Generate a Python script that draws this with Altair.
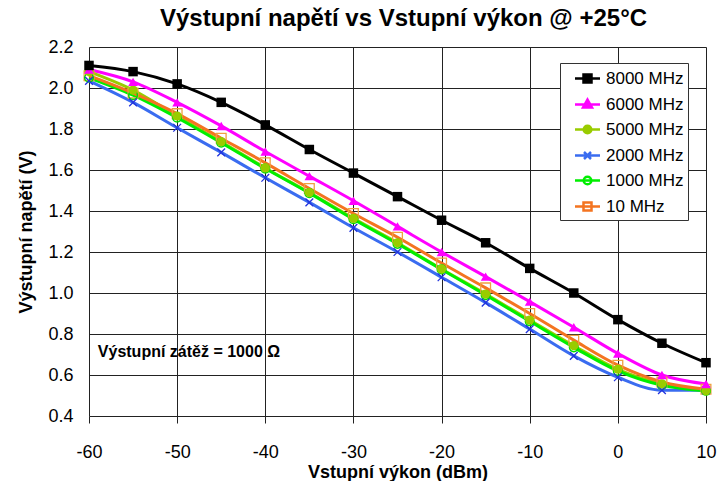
import altair as alt
import pandas as pd

# ---- data ----
x_dbm = [-60, -55, -50, -45, -40, -35, -30, -25, -20, -15, -10, -5, 0, 5, 10]
v_8000 = [2.11, 2.08, 2.02, 1.93, 1.82, 1.70, 1.585, 1.47, 1.355, 1.245, 1.12, 1.00, 0.87, 0.755, 0.66]
v_6000 = [2.09, 2.03, 1.93, 1.815, 1.69, 1.57, 1.45, 1.325, 1.20, 1.08, 0.958, 0.833, 0.705, 0.60, 0.556]
v_5000 = [2.08, 1.99, 1.863, 1.738, 1.61, 1.49, 1.364, 1.245, 1.117, 0.995, 0.868, 0.743, 0.628, 0.557, 0.523]
v_2000 = [2.035, 1.93, 1.806, 1.686, 1.562, 1.442, 1.318, 1.20, 1.077, 0.953, 0.824, 0.693, 0.589, 0.526, 0.526]
v_1000 = [2.05, 1.965, 1.855, 1.733, 1.607, 1.487, 1.36, 1.24, 1.115, 0.99, 0.862, 0.735, 0.62, 0.55, 0.523]
v_10 = [2.06, 1.975, 1.875, 1.755, 1.635, 1.51, 1.388, 1.272, 1.146, 1.025, 0.90, 0.77, 0.648, 0.566, 0.53]

series_names = ["8000 MHz", "6000 MHz", "5000 MHz", "2000 MHz", "1000 MHz", "10 MHz"]
series_values = [v_8000, v_6000, v_5000, v_2000, v_1000, v_10]
line_colors = ["#000000", "#ff00ff", "#99cc00", "#3a6cf0", "#00ee00", "#f47421"]

x_ticks = [-60, -50, -40, -30, -20, -10, 0, 10]
y_ticks = [0.4, 0.6, 0.8, 1.0, 1.2, 1.4, 1.6, 1.8, 2.0, 2.2]

note_text = ["Výstupní zátěž = 1000 Ω"]
note_x = [-59.0]
note_y = [0.712]

title_text = "Výstupní napětí vs Vstupní výkon @ +25°C"
x_title = "Vstupní výkon (dBm)"
y_title = "Výstupní napětí (V)"

# ---- build table ----
rows = []
for name, vals in zip(series_names, series_values):
    for xv, yv in zip(x_dbm, vals):
        rows.append({"series": name, "x": xv, "v": yv})
df = pd.DataFrame(rows)

FONT = "Liberation Sans"

x_enc = alt.X(
    "x:Q",
    scale=alt.Scale(domain=[-60, 10], nice=False, zero=False),
    axis=alt.Axis(
        values=x_ticks, title=x_title, grid=True, gridColor="#222222", gridWidth=1,
        ticks=True, tickColor="#222222", tickSize=7, domain=False, labelFlush=False,
        labelExpr="'' + datum.value", labelFontSize=18, labelFont=FONT, labelColor="#000",
        labelPadding=20, titleFont=FONT, titleFontSize=18, titleFontWeight="bold",
        titleColor="#000", titlePadding=2,
    ),
)
y_enc = alt.Y(
    "v:Q",
    scale=alt.Scale(domain=[0.4, 2.2], nice=False, zero=False),
    axis=alt.Axis(
        values=y_ticks, title=y_title, grid=True, gridColor="#222222", gridWidth=1,
        ticks=False, domain=False, labelExpr="format(datum.value, '.1f')", labelFlush=False,
        labelFontSize=18, labelFont=FONT, labelColor="#000", labelPadding=16,
        titleFont=FONT, titleFontSize=18, titleFontWeight="bold", titleColor="#000",
        titlePadding=12,
    ),
)

base = alt.Chart(df)

# one line layer per series (fixed colours, no colour scale)
line_layers = []
for i, (name, col) in enumerate(zip(series_names, line_colors)):
    enc = dict(x=x_enc, y=y_enc) if i == 0 else dict(x="x:Q", y="v:Q")
    line_layers.append(
        base.mark_line(interpolate="monotone", strokeWidth=3, color=col)
        .encode(**enc)
        .transform_filter(alt.datum.series == name)
    )

x_path = "M-1,-1L1,1M-1,1L1,-1"
marker_specs = {
    "10 MHz": dict(shape="square", filled=False, color="#f0a040", size=95, strokeWidth=1.3),
    "1000 MHz": dict(shape="circle", filled=False, color="#00dd00", size=75, strokeWidth=1.5),
    "2000 MHz": dict(shape=x_path, filled=False, color="#2233dd", size=60, strokeWidth=1.3),
    "5000 MHz": dict(shape="circle", filled=True, color="#99cc00", size=85, strokeWidth=0),
    "6000 MHz": dict(shape="triangle-up", filled=True, color="#ff00ff", size=95, strokeWidth=0),
    "8000 MHz": dict(shape="square", filled=True, color="#000000", size=90, strokeWidth=0),
}

point_layers = []
for name, spec in marker_specs.items():
    kw = dict(shape=spec["shape"], filled=spec["filled"], size=spec["size"], opacity=1, color=spec["color"])
    if not spec["filled"]:
        kw["strokeWidth"] = spec["strokeWidth"]
    layer = base.mark_point(**kw).encode(x="x:Q", y="v:Q").transform_filter(
        alt.datum.series == name
    )
    point_layers.append(layer)

# legend-only layer: its points sit outside the x domain and are clipped away
legend_paths = [
    "M-1.25,0L1.25,0M-0.4,-0.4L0.4,-0.4L0.4,0.4L-0.4,0.4Z",
    "M-1.25,0L1.25,0M0,-0.5L0.45,0.3L-0.45,0.3Z",
    "M-1.25,0L1.25,0M-0.38,0A0.38,0.38 0 1,0 0.38,0A0.38,0.38 0 1,0 -0.38,0Z",
    "M-1.25,0L1.25,0M-0.35,-0.35L0.35,0.35M-0.35,0.35L0.35,-0.35",
    "M-1.25,0L1.25,0M-0.38,0A0.38,0.38 0 1,0 0.38,0A0.38,0.38 0 1,0 -0.38,0Z",
    "M-1.25,0L1.25,0M-0.4,-0.4L0.4,-0.4L0.4,0.4L-0.4,0.4Z",
]
legend_fills = ["#000000", "#ff00ff", "#99cc00", "transparent", "transparent", "transparent"]

legend_def = alt.Legend(
    title=None, orient="none", legendX=471, legendY=16,
    symbolSize=400, symbolStrokeWidth=2.5, symbolOffset=12, labelOffset=7,
    labelFont=FONT, labelFontSize=17, labelColor="#000",
    labelExpr="datum.label + '\u00a0\u00a0\u00a0'",
    rowPadding=5, padding=4,
    strokeColor="#333333", fillColor="#ffffff",
)

legend_layer = base.mark_point(filled=False, clip=True, size=400, opacity=1, strokeWidth=2.5).encode(
    x="xo:Q",
    y="v:Q",
    stroke=alt.Stroke("series:N", scale=alt.Scale(domain=series_names, range=line_colors), legend=legend_def),
    fill=alt.Fill("series:N", scale=alt.Scale(domain=series_names, range=legend_fills), legend=legend_def),
    shape=alt.Shape("series:N", scale=alt.Scale(domain=series_names, range=legend_paths), legend=legend_def),
).transform_calculate(xo="datum.x + 1000")

note_df = pd.DataFrame({"t": note_text, "x": note_x, "v": note_y})
note = alt.Chart(note_df).mark_text(
    align="left", baseline="middle", font=FONT, fontSize=16, fontWeight="bold", color="#000"
).encode(x="x:Q", y="v:Q", text="t:N")

chart = alt.layer(*line_layers, *point_layers, legend_layer, note).properties(
    width=617,
    height=369,
    title=alt.TitleParams(
        title_text, font=FONT, fontSize=24, fontWeight="bold", color="#000",
        anchor="middle", offset=7, dx=6,
    ),
    autosize=alt.AutoSizeParams(type="none"),
    padding={"left": 89, "top": 47, "right": 12, "bottom": 65},
).configure_view(stroke="#000000", strokeWidth=1).configure(background="#ffffff")

chart.save("out.html", embed_options={"renderer": "svg", "actions": False})
